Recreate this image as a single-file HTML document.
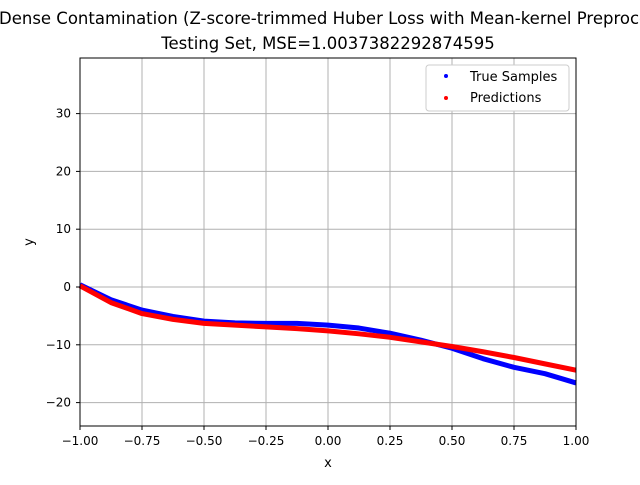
<!DOCTYPE html>
<html><head><meta charset="utf-8"><style>
body{margin:0;background:#fff}
svg{font-family:"DejaVu Sans","Liberation Sans",sans-serif}
</style></head><body>
<svg id="chart" width="640" height="480" viewBox="0 0 640 480">
<rect width="640" height="480" fill="#fff"/>
<text x="-1" y="24" text-anchor="start" font-size="16.5">Dense Contamination (Z-score-trimmed Huber Loss with Mean-kernel Preprocessing)</text>
<text x="328" y="49" text-anchor="middle" font-size="16.5">Testing Set, MSE=1.0037382292874595</text>
<g id="grid"></g>
<g id="series"></g>
<rect x="80" y="58" width="496" height="368" fill="none" stroke="#000" stroke-width="1"/>
<g id="ticks"></g>
<text x="328" y="467" text-anchor="middle" font-size="13">x</text>
<text x="33" y="242" text-anchor="middle" font-size="13" transform="rotate(-90 33 242)">y</text>
<g>
<rect x="426" y="65" width="143" height="46" rx="3" fill="#fff" stroke="#ccc"/>
<circle cx="446" cy="76" r="2" fill="#0000ff"/>
<text x="470" y="81" font-size="13">True Samples</text>
<circle cx="446" cy="98" r="2" fill="#ff0000"/>
<text x="470" y="102" font-size="13">Predictions</text>
</g>
</svg>
<script>
const xs=[-1,-0.875,-0.75,-0.625,-0.5,-0.375,-0.25,-0.125,0,0.125,0.25,0.375,0.5,0.625,0.75,0.875,1];
const trueY=[0.4,-2.2,-4.0,-5.1,-5.9,-6.2,-6.3,-6.3,-6.6,-7.1,-8.0,-9.2,-10.6,-12.4,-13.9,-15.0,-16.6];
const predY=[0.2,-2.7,-4.6,-5.6,-6.3,-6.6,-6.9,-7.2,-7.6,-8.1,-8.7,-9.5,-10.3,-11.2,-12.2,-13.3,-14.4];
const xTicks=[-1,-0.75,-0.5,-0.25,0,0.25,0.5,0.75,1];
const xTickLabels=["−1.00","−0.75","−0.50","−0.25","0.00","0.25","0.50","0.75","1.00"];
const yTicks=[-20,-10,0,10,20,30];
const yTickLabels=["−20","−10","0","10","20","30"];
const NS="http://www.w3.org/2000/svg";
function sx(v){return 80+(v+1)/2*496;}
function sy(v){return 287-v*5.78;}
function mk(t,a,p){const e=document.createElementNS(NS,t);for(const k in a)e.setAttribute(k,a[k]);p.appendChild(e);return e;}
const grid=document.getElementById('grid'),ticks=document.getElementById('ticks'),ser=document.getElementById('series');
xTicks.forEach((v,i)=>{
 const g=mk('line',{x1:sx(v),x2:sx(v),y1:58,y2:426,stroke:'#b0b0b0','stroke-width':1},grid);
 
 
 const t=mk('line',{x1:sx(v),x2:sx(v),y1:426,y2:430,stroke:'#000'},ticks);
 
 
 const l=mk('text',{x:sx(v),y:445,'text-anchor':'middle','font-size':12},ticks);
 l.textContent=xTickLabels[i];
 
 
});
yTicks.forEach((v,i)=>{
 const g=mk('line',{x1:80,x2:576,y1:sy(v),y2:sy(v),stroke:'#b0b0b0','stroke-width':1},grid);
 
 
 const t=mk('line',{x1:76,x2:80,y1:sy(v),y2:sy(v),stroke:'#000'},ticks);
 
 
 const l=mk('text',{x:71,y:sy(v)+4,'text-anchor':'end','font-size':12},ticks);
 l.textContent=yTickLabels[i];
 
 
});
function draw(ys,color,name){
 const pts=xs.map((x,i)=>sx(x)+','+sy(ys[i])).join(' ');
 const p=mk('polyline',{points:pts,fill:'none',stroke:color,'stroke-width':5,'stroke-linejoin':'round'},ser);
 
 
}
draw(trueY,'#0000ff','true-samples-series');
draw(predY,'#ff0000','predictions-series');
</script>
</body></html>
